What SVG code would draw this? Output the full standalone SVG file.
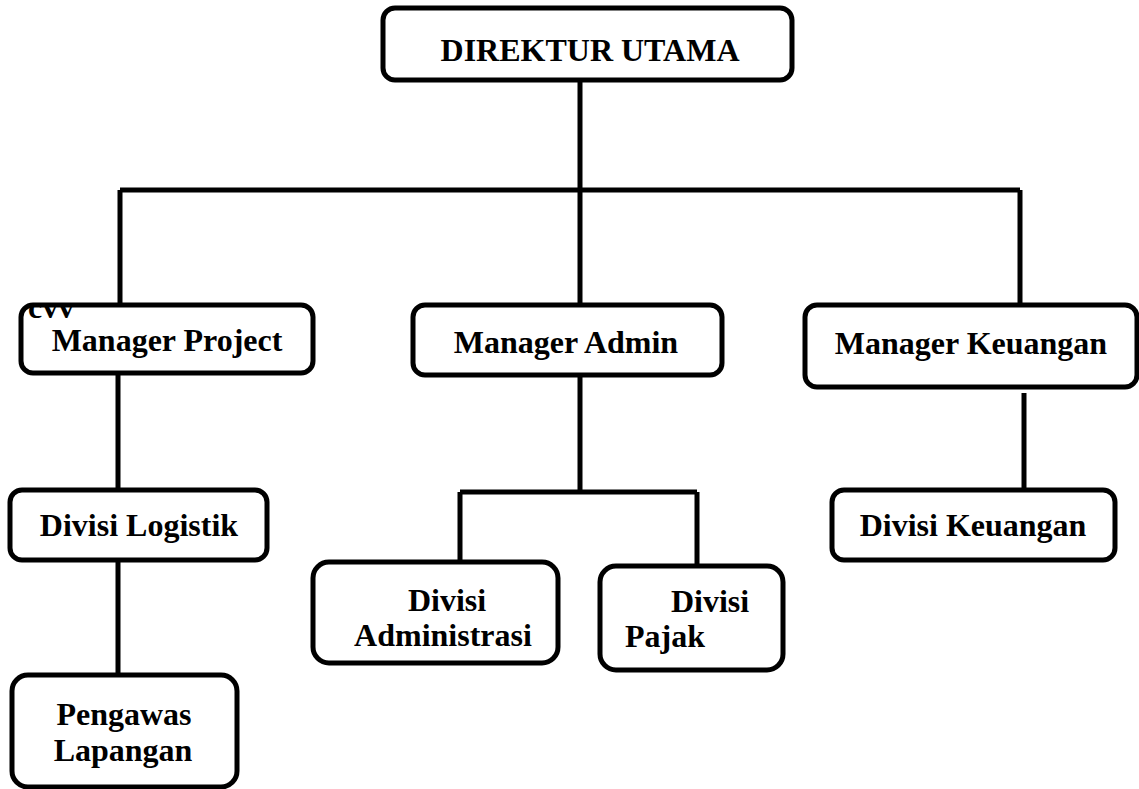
<svg xmlns="http://www.w3.org/2000/svg" width="1139" height="789" viewBox="0 0 1139 789">
<style>
.box{fill:#fff;stroke:#000;stroke-width:5}
.t{font-family:"Liberation Serif","Times New Roman",serif;font-weight:bold;font-size:32px;fill:#000}
.c{stroke:#000;stroke-width:5;fill:none}
</style>
<rect width="1139" height="789" fill="#fff"/>
<g id="connectors">
<path class="c" d="M580 80V190M120 190H1020M120 190V305M580 190V305M1020 190V305"/>
<path class="c" d="M118 373V490M118 560V675"/>
<path class="c" d="M580 375V492M460 492H697M460 492V562M697 492V566"/>
<path class="c" d="M1024 393V490"/>
</g>
<g id="direktur"><rect class="box" x="383" y="8" width="409" height="72" rx="12"/><text class="t" x="590" y="61" text-anchor="middle">DIREKTUR UTAMA</text></g>
<g id="mgr-project"><rect class="box" x="21" y="305" width="292" height="68" rx="12"/><text class="t" x="28" y="318">cvv</text><text class="t" x="167" y="351" text-anchor="middle">Manager Project</text></g>
<g id="mgr-admin"><rect class="box" x="413" y="305" width="309" height="70" rx="12"/><text class="t" x="566" y="353" text-anchor="middle">Manager Admin</text></g>
<g id="mgr-keuangan"><rect class="box" x="805" y="305" width="332" height="82" rx="12"/><text class="t" x="971" y="354" text-anchor="middle">Manager Keuangan</text></g>
<g id="div-logistik"><rect class="box" x="10" y="490" width="257" height="70" rx="12"/><text class="t" x="139" y="536" text-anchor="middle">Divisi Logistik</text></g>
<g id="pengawas"><rect class="box" x="12" y="675" width="225" height="112" rx="16"/><text class="t" x="124" y="725" text-anchor="middle">Pengawas</text><text class="t" x="123" y="761" text-anchor="middle">Lapangan</text></g>
<g id="div-admin"><rect class="box" x="313" y="562" width="245" height="101" rx="16"/><text class="t" x="447" y="611" text-anchor="middle">Divisi</text><text class="t" x="443" y="646" text-anchor="middle">Administrasi</text></g>
<g id="div-pajak"><rect class="box" x="600" y="566" width="183" height="104" rx="16"/><text class="t" x="710" y="612" text-anchor="middle">Divisi</text><text class="t" x="625" y="647">Pajak</text></g>
<g id="div-keuangan"><rect class="box" x="832" y="490" width="283" height="70" rx="12"/><text class="t" x="973" y="536" text-anchor="middle">Divisi Keuangan</text></g>
</svg>
